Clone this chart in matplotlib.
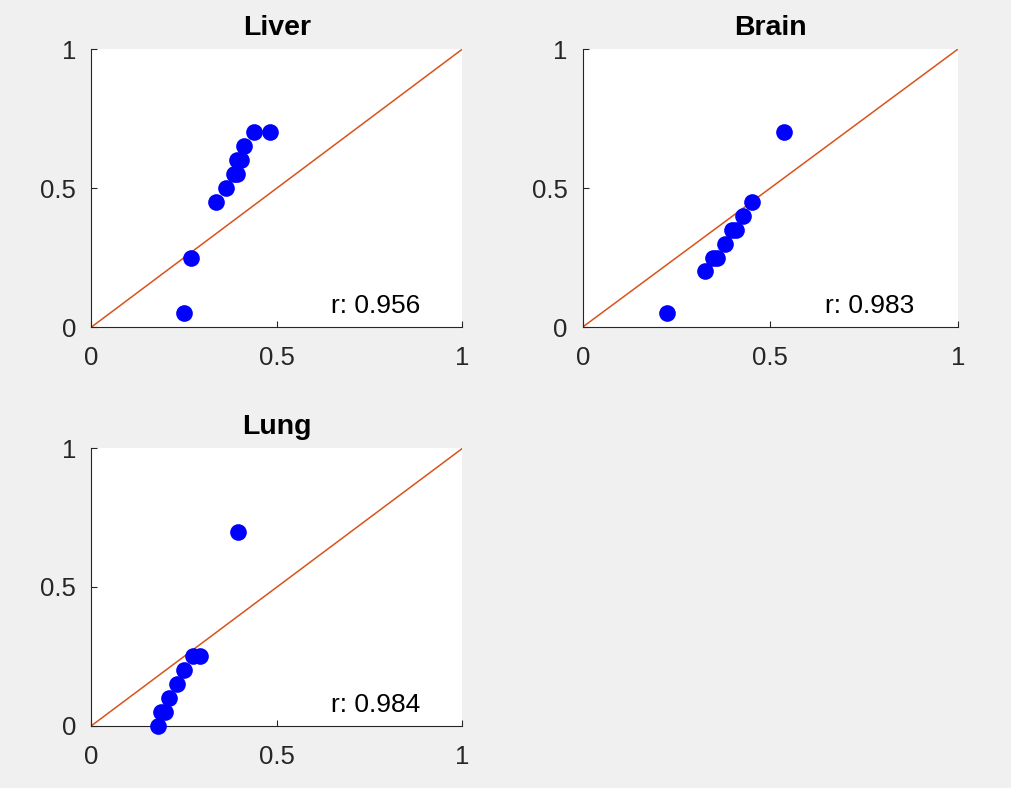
import matplotlib
matplotlib.use("Agg")
import matplotlib.pyplot as plt

# values (sorted pairs per tissue)
liver_x = [0.250, 0.268, 0.335, 0.362, 0.385, 0.393, 0.391, 0.402, 0.411, 0.439, 0.481]
liver_y = [0.05, 0.25, 0.45, 0.50, 0.55, 0.55, 0.60, 0.60, 0.65, 0.70, 0.70]

brain_x = [0.225, 0.326, 0.346, 0.358, 0.380, 0.397, 0.408, 0.428, 0.450, 0.535]
brain_y = [0.05, 0.20, 0.25, 0.25, 0.30, 0.35, 0.35, 0.40, 0.45, 0.70]

lung_x = [0.178, 0.187, 0.197, 0.210, 0.231, 0.249, 0.274, 0.292, 0.396]
lung_y = [0.00, 0.05, 0.05, 0.10, 0.15, 0.20, 0.25, 0.25, 0.70]

titles = ["Liver", "Brain", "Lung"]
r_values = [0.956, 0.983, 0.984]
ticks = [0, 0.5, 1]
tick_labels = ["0", "0.5", "1"]

plt.rcParams["font.family"] = ["Liberation Sans", "DejaVu Sans"]

ink = "#262626"
fig = plt.figure(figsize=(10.12, 7.88), dpi=100, facecolor="#f0f0f0")

# axes boxes in figure fraction, MATLAB subplot(2,2,k) layout
boxes = [
    [0.0904, 0.585, 0.3666, 0.3528],
    [0.5758, 0.585, 0.3709, 0.3528],
    [0.0904, 0.0791, 0.3666, 0.3520],
]
data = [(liver_x, liver_y), (brain_x, brain_y), (lung_x, lung_y)]

for box, (xs, ys), title, r in zip(boxes, data, titles, r_values):
    ax = fig.add_axes(box)
    ax.set_facecolor("white")
    ax.plot([0, 1], [0, 1], color="#D95319", lw=1.1, zorder=1)
    ax.plot(xs, ys, "o", color="#0000FF", ms=12, mew=0, clip_on=False, zorder=3)
    ax.text(0.645, 0.05, "r: %.3f" % r, fontsize=19, color="black", va="baseline")

    ax.set_xlim(0, 1)
    ax.set_ylim(0, 1)
    ax.set_xticks(ticks)
    ax.set_yticks(ticks)
    ax.set_xticklabels(tick_labels)
    ax.set_yticklabels(tick_labels)
    ax.tick_params(direction="in", length=4, width=0.8, colors=ink,
                   labelsize=18.5)
    ax.tick_params(axis="y", pad=11)
    ax.tick_params(axis="x", pad=14)
    for side in ["top", "right"]:
        ax.spines[side].set_visible(False)
    for side in ["left", "bottom"]:
        ax.spines[side].set_color(ink)
        ax.spines[side].set_linewidth(0.8)
    ax.set_title(title, fontsize=20.5, fontweight="bold", color="black", pad=10)

fig.savefig("out.png", dpi=100, facecolor=fig.get_facecolor())
